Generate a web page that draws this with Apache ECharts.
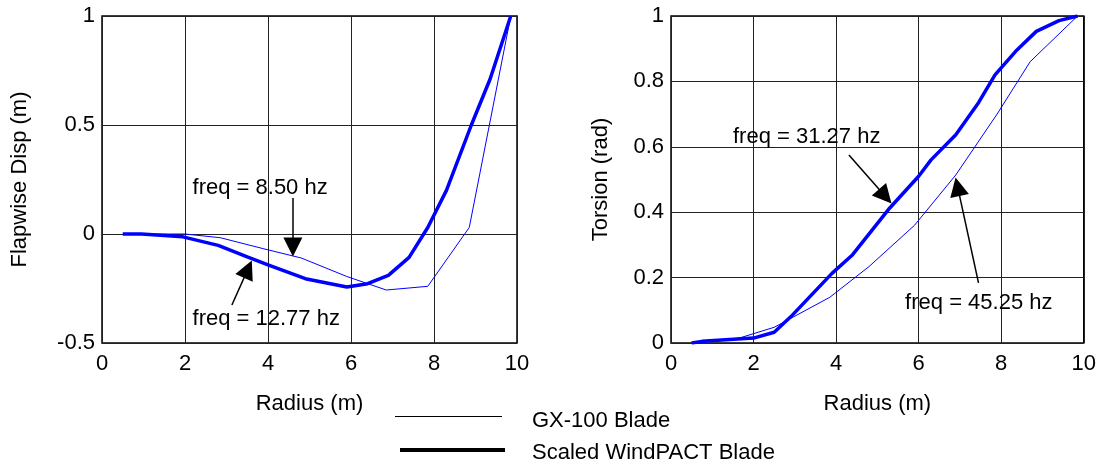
<!DOCTYPE html>
<html><head><meta charset="utf-8">
<script src="https://cdn.jsdelivr.net/npm/echarts@6/dist/echarts.min.js"></script>
<style>html,body{margin:0;padding:0;background:#fff}#c{width:1099px;height:466px}</style>
</head><body><div id="c"></div>
<script>
// ---- data ----
const xTicks = [0, 2, 4, 6, 8, 10];
const flapTicks = [-0.5, 0, 0.5, 1];
const torsTicks = [0, 0.2, 0.4, 0.6, 0.8, 1];

const flapGxX = [0.5, 2.0, 2.85, 3.9, 4.8, 5.9, 6.85, 7.85, 8.85, 9.85];
const flapGxY = [0, 0, -0.017, -0.068, -0.11, -0.195, -0.257, -0.24, 0.03, 1.0];
const flapWpX = [0.5, 0.95, 1.95, 2.8, 3.5, 4.0, 4.9, 5.9, 6.4, 6.9, 7.4, 7.85, 8.3, 8.9, 9.35, 9.85];
const flapWpY = [0, 0, -0.013, -0.052, -0.105, -0.142, -0.205, -0.243, -0.228, -0.19, -0.107, 0.03, 0.2, 0.5, 0.71, 1.0];

const torsGxX = [0.5, 1.65, 2.5, 3.85, 4.8, 5.9, 6.9, 7.9, 8.7, 9.85];
const torsGxY = [0, 0.015, 0.048, 0.14, 0.234, 0.36, 0.514, 0.70, 0.86, 1.0];
const torsWpX = [0.5, 0.75, 2.0, 2.5, 2.9, 3.9, 4.4, 5.3, 6.0, 6.3, 6.9, 7.45, 7.85, 8.35, 8.85, 9.4, 9.85];
const torsWpY = [0, 0.005, 0.015, 0.033, 0.08, 0.213, 0.27, 0.413, 0.51, 0.56, 0.637, 0.735, 0.82, 0.892, 0.953, 0.986, 1.0];

const seriesNames = ['GX-100 Blade', 'Scaled WindPACT Blade'];
const flapNotes = [
  {text: 'freq = 8.50 hz', at: [2.17, 0.211], from: [4.6, 0.165], to: [4.6, -0.06]},
  {text: 'freq = 12.77 hz', at: [2.17, -0.39], from: [3.13, -0.326], to: [3.516, -0.161]}
];
const torsNotes = [
  {text: 'freq = 31.27 hz', at: [1.49, 0.63], from: [4.31, 0.575], to: [5.19, 0.4485]},
  {text: 'freq = 45.25 hz', at: [5.66, 0.123], from: [7.45, 0.184], to: [6.943, 0.478]}
];
const axisNames = {x: 'Radius (m)', flap: 'Flapwise Disp (m)', tors: 'Torsion (rad)'};

// ---- build ----
const FONT = 'Liberation Sans';
const FS = 22;
const pairs = (xs, ys) => xs.map((x, i) => [x, ys[i]]);

function notesMark(notes) {
  return {
    markLine: {
      silent: true, animation: false,
      symbol: ['none', 'triangle'], symbolSize: 19,
      lineStyle: {color: '#000', width: 1.5, type: 'solid'},
      label: {show: false}, emphasis: {disabled: true},
      data: notes.map(n => [{coord: n.from}, {coord: n.to}])
    },
    markPoint: {
      silent: true, animation: false,
      symbol: 'circle', symbolSize: 1,
      itemStyle: {color: 'rgba(0,0,0,0)'},
      label: {show: true, position: 'right', distance: 0, color: '#000', fontFamily: FONT, fontSize: FS,
        formatter: p => p.name},
      data: notes.map(n => ({name: n.text, coord: n.at}))
    }
  };
}

function xAxis(gi) {
  return {
    type: 'value', gridIndex: gi, min: xTicks[0], max: xTicks[xTicks.length - 1], interval: xTicks[1] - xTicks[0],
    name: axisNames.x, nameLocation: 'middle', nameGap: 50,
    nameTextStyle: {color: '#000', fontFamily: FONT, fontSize: FS},
    axisLine: {show: false}, axisTick: {show: false},
    axisLabel: {color: '#000', fontFamily: FONT, fontSize: FS, margin: 10},
    splitLine: {show: true, lineStyle: {color: '#222', width: 1}}
  };
}
function yAxis(gi, ticks, name, gap) {
  return {
    type: 'value', gridIndex: gi, min: ticks[0], max: ticks[ticks.length - 1], interval: +(ticks[1] - ticks[0]).toFixed(3),
    name, nameLocation: 'middle', nameGap: gap,
    nameTextStyle: {color: '#000', fontFamily: FONT, fontSize: FS},
    axisLine: {show: false}, axisTick: {show: false},
    axisLabel: {color: '#000', fontFamily: FONT, fontSize: FS, margin: 7},
    splitLine: {show: true, lineStyle: {color: '#222', width: 1}}
  };
}

const blue = '#0000ff';
const option = {
  animation: false,
  backgroundColor: '#fff',
  grid: [
    {left: 102, top: 16, width: 415, height: 327, show: true, borderColor: '#000', borderWidth: 1.5, backgroundColor: 'transparent'},
    {left: 671, top: 16, width: 415, height: 327, show: true, borderColor: '#000', borderWidth: 1.5, backgroundColor: 'transparent'}
  ],
  xAxis: [xAxis(0), xAxis(1)],
  yAxis: [
    yAxis(0, flapTicks, axisNames.flap, 71),
    yAxis(1, torsTicks, axisNames.tors, 59)
  ],
  graphic: [
    {type: 'line', shape: {x1: 395, y1: 416.5, x2: 502, y2: 416.5}, style: {stroke: '#000', lineWidth: 1.2}, silent: true},
    {type: 'line', shape: {x1: 400, y1: 450, x2: 505, y2: 450}, style: {stroke: '#000', lineWidth: 4}, silent: true},
    {type: 'text', x: 532, y: 421, silent: true,
      style: {text: seriesNames[0], fill: '#000', font: FS + 'px "' + FONT + '"', verticalAlign: 'middle', align: 'left'}},
    {type: 'text', x: 532, y: 453, silent: true,
      style: {text: seriesNames[1], fill: '#000', font: FS + 'px "' + FONT + '"', verticalAlign: 'middle', align: 'left'}}
  ],
  series: [
    Object.assign({name: seriesNames[0], type: 'line', xAxisIndex: 0, yAxisIndex: 0, data: pairs(flapGxX, flapGxY),
      showSymbol: false, symbol: 'none', lineStyle: {color: blue, width: 1}, itemStyle: {color: blue}, z: 3}, notesMark(flapNotes)),
    {name: seriesNames[1], type: 'line', xAxisIndex: 0, yAxisIndex: 0, data: pairs(flapWpX, flapWpY),
      showSymbol: false, symbol: 'none', lineStyle: {color: blue, width: 3.5}, itemStyle: {color: blue}, z: 3},
    Object.assign({name: seriesNames[0], type: 'line', xAxisIndex: 1, yAxisIndex: 1, data: pairs(torsGxX, torsGxY),
      showSymbol: false, symbol: 'none', lineStyle: {color: blue, width: 1}, itemStyle: {color: blue}, z: 3}, notesMark(torsNotes)),
    {name: seriesNames[1], type: 'line', xAxisIndex: 1, yAxisIndex: 1, data: pairs(torsWpX, torsWpY),
      showSymbol: false, symbol: 'none', lineStyle: {color: blue, width: 3.5}, itemStyle: {color: blue}, z: 3}
  ]
};
const chart = echarts.init(document.getElementById('c'), null, {renderer: 'canvas'});
chart.setOption(option);
</script>
</body></html>
